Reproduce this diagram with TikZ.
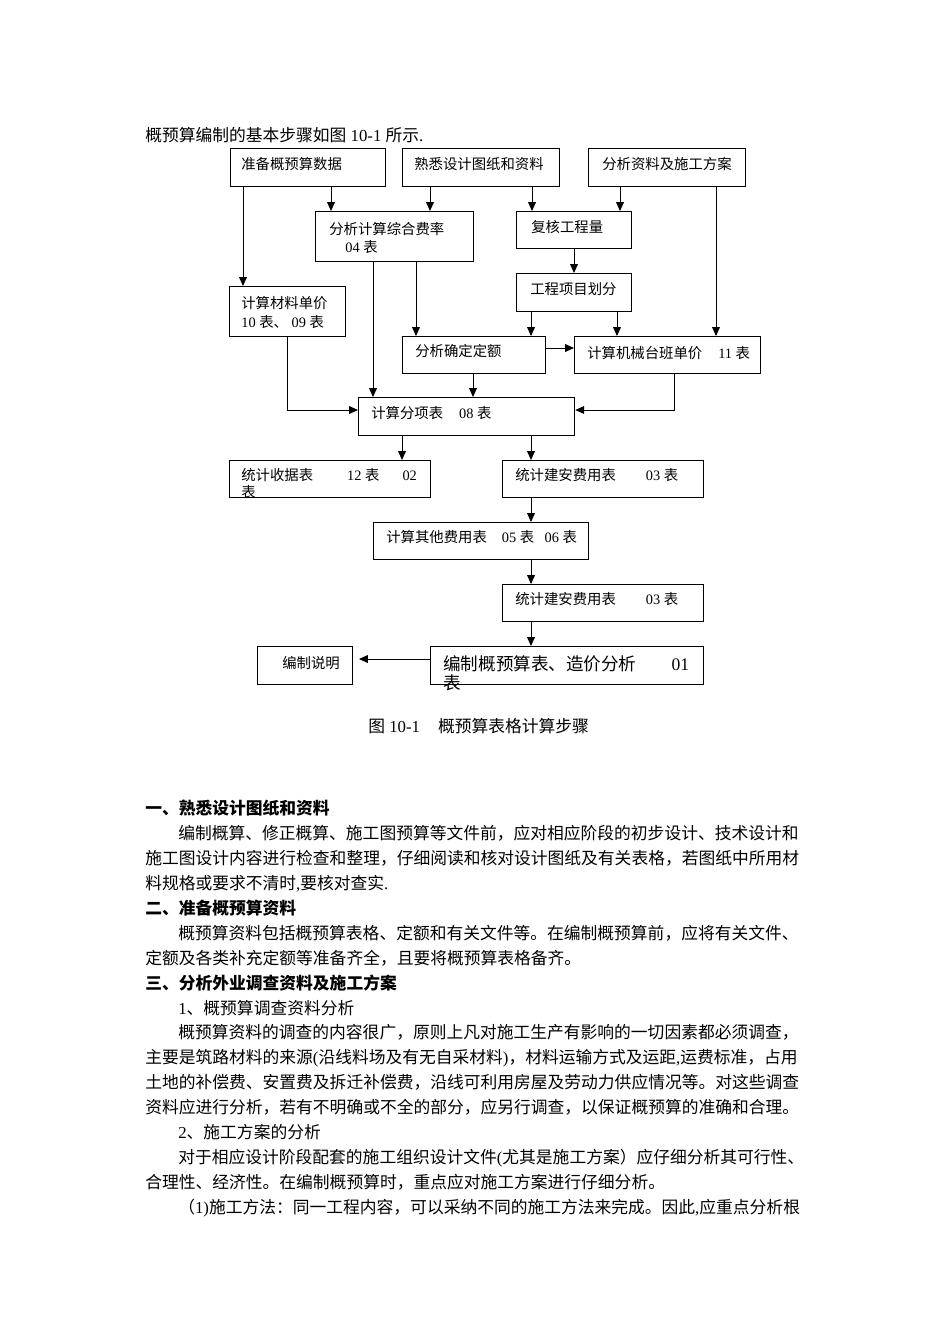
\documentclass[tikz,border=0pt]{standalone}
\usepackage{fontspec}
\setmainfont{Liberation Serif}
\newfontfamily\cjk{Noto Sans CJK SC}
\usetikzlibrary{arrows.meta}
% automatic switch between Latin (Liberation Serif) and CJK (Noto Sans CJK SC)
\XeTeXinterchartokenstate=1
\newXeTeXintercharclass\CJKcls
\newcount\cc
\def\setcls#1#2#3{\cc=#1\relax\loop\ifnum\cc<#2\relax\XeTeXcharclass\cc=#3\relax\advance\cc by 1\relax\repeat}
\setcls{"21}{"7F}{0}
\setcls{"3000}{"3040}{\CJKcls}
\setcls{"4E00}{"A000}{\CJKcls}
\setcls{"FF00}{"FFF0}{\CJKcls}
\XeTeXinterchartoks 0 \CJKcls = {\cjk}
\XeTeXinterchartoks 4095 \CJKcls = {\cjk}
\XeTeXinterchartoks \CJKcls 0 = {\rmfamily}
\XeTeXinterchartoks \CJKcls 4095 = {\rmfamily}
\newdimen\U \U=0.6263pt
\newcommand\bx[5]{\node[box, minimum width={(#4-#2)*\U}, minimum height={(#5-#3)*\U}] (#1) at (#2,#3) {};}
\newcommand\tx[5][ft]{\node[#1] (#2) at (#3,#4) {#5};}
\begin{document}
\begin{tikzpicture}[x=0.6263pt,y=-0.6263pt,
 box/.style={draw, line width=0.8pt, inner sep=0pt, anchor=north west},
 ft/.style={inner sep=0pt, anchor=west, text height=7.9pt, text depth=1.1pt, font=\fontsize{9pt}{11pt}\selectfont},
 fb/.style={inner sep=0pt, anchor=west, text height=9.2pt, text depth=1.3pt, font=\fontsize{10.5pt}{13pt}\selectfont},
 fo/.style={inner sep=0pt, anchor=west, text height=9.7pt, text depth=1.3pt, font=\fontsize{11pt}{13pt}\selectfont},
 hd/.style={fb, font=\fontsize{10.5pt}{13pt}\selectfont\bfseries},
 arr/.style={line width=0.6pt, -{Triangle[length=5.5pt,width=4.8pt]}}]
\fill[white] (0,0) rectangle (950,1344);
\useasboundingbox (0,0) rectangle (950,1344);

% boxes
\bx{A}{230}{148}{385}{186}
\bx{B}{402}{148}{559}{186}
\bx{C}{588}{148}{745}{186}
\bx{D}{315}{211}{473}{261}
\bx{E}{516}{211}{631}{248}
\bx{F}{516}{273}{631}{311}
\bx{G}{229}{286}{345}{336}
\bx{H}{402}{336}{545}{373}
\bx{I}{574}{336}{760}{373}
\bx{J}{358}{397}{574}{435}
\bx{K}{229}{460}{430}{497}
\bx{L}{502}{460}{703}{497}
\bx{M}{373}{522}{588}{559}
\bx{N}{502}{584}{703}{621}
\bx{O}{430}{646}{703}{684}
\bx{P}{257}{646}{352}{684}

% box texts
\tx{tA}{241}{164}{准备概预算数据}
\tx{tB}{414}{164}{熟悉设计图纸和资料}
\tx{tC}{602}{164}{分析资料及施工方案}
\tx{tD1}{329}{229}{分析计算综合费率}
\tx{tD2}{345}{247}{04 表}
\tx{tE}{531}{227}{复核工程量}
\tx{tF}{530}{289}{工程项目划分}
\tx{tG1}{241}{303}{计算材料单价}
\tx{tG2}{241}{322}{10 表、 09 表}
\tx{tH}{415}{351}{分析确定定额}
\tx{tI}{587}{353}{计算机械台班单价\hspace{16\U}11 表}
\tx{tJ}{371}{413}{计算分项表\hspace{16\U}08 表}
\tx{tK1}{241}{475}{统计收据表\hspace{34\U}12 表\hspace{23\U}02}
\tx{tK2}{241}{492}{表}
\tx{tL}{515}{475}{统计建安费用表\hspace{30\U}03 表}
\tx{tM}{386}{537}{计算其他费用表\hspace{15\U}05 表\hspace{10.5\U}06 表}
\tx{tN}{515}{599}{统计建安费用表\hspace{30\U}03 表}
\tx[fo]{tO1}{443}{664}{编制概预算表、造价分析\hspace{35\U}01}
\tx[fo]{tO2}{443}{683}{表}
\tx{tP}{282}{663}{编制说明}

% connectors
\draw[arr] (A.south -| 243,0) -- (G.north -| 243,0);
\draw[arr] (A.south -| 331,0) -- (D.north -| 331,0);
\draw[arr] (B.south -| 430,0) -- (D.north -| 430,0);
\draw[arr] (B.south -| 532,0) -- (E.north -| 532,0);
\draw[arr] (C.south -| 620,0) -- (E.north -| 620,0);
\draw[arr] (C.south -| 716,0) -- (I.north -| 716,0);
\draw[arr] (E.south -| 574,0) -- (F.north -| 574,0);
\draw[arr] (D.south -| 373,0) -- (J.north -| 373,0);
\draw[arr] (D.south -| 416,0) -- (H.north -| 416,0);
\draw[arr] (F.south -| 531,0) -- (H.north -| 531,0);
\draw[arr] (F.south -| 617,0) -- (I.north -| 617,0);
\draw[arr] (H.east |- 0,348) -- (I.west |- 0,348);
\draw[arr] (H.south -| 473,0) -- (J.north -| 473,0);
\draw[arr] (G.south -| 287,0) |- (J.west |- 0,410);
\draw[arr] (I.south -| 674,0) |- (J.east |- 0,410);
\draw[arr] (J.south -| 402,0) -- (K.north -| 402,0);
\draw[arr] (J.south -| 531,0) -- (L.north -| 531,0);
\draw[arr] (L.south -| 531,0) -- (M.north -| 531,0);
\draw[arr] (M.south -| 531,0) -- (N.north -| 531,0);
\draw[arr] (N.south -| 531,0) -- (O.north -| 531,0);
\coordinate (Ptip) at (359,659);
\draw[arr] (O.west |- Ptip) -- (Ptip);

% captions
\tx[fb]{intro}{145}{135}{概预算编制的基本步骤如图 10-1 所示.}
\tx[fb]{cap}{368}{726}{图 10-1\hspace{18\U}概预算表格计算步骤}

% body text
\tx[hd]{h1}{145}{808}{一、熟悉设计图纸和资料}
\tx[fb]{b2}{178}{833}{编制概算、修正概算、施工图预算等文件前，应对相应阶段的初步设计、技术设计和}
\tx[fb]{b3}{145}{858}{施工图设计内容进行检查和整理，仔细阅读和核对设计图纸及有关表格，若图纸中所用材}
\tx[fb]{b4}{145}{883}{料规格或要求不清时,要核对查实.}
\tx[hd]{h2}{145}{908}{二、准备概预算资料}
\tx[fb]{b6}{178}{933}{概预算资料包括概预算表格、定额和有关文件等。在编制概预算前，应将有关文件、}
\tx[fb]{b7}{145}{958}{定额及各类补充定额等准备齐全，且要将概预算表格备齐。}
\tx[hd]{h3}{145}{983}{三、分析外业调查资料及施工方案}
\tx[fb]{b9}{178}{1008}{1、概预算调查资料分析}
\tx[fb]{b10}{178}{1032}{概预算资料的调查的内容很广，原则上凡对施工生产有影响的一切因素都必须调查，}
\tx[fb]{b11}{145}{1057}{主要是筑路材料的来源(沿线料场及有无自采材料)，材料运输方式及运距,运费标准，占用}
\tx[fb]{b12}{145}{1082}{土地的补偿费、安置费及拆迁补偿费，沿线可利用房屋及劳动力供应情况等。对这些调查}
\tx[fb]{b13}{145}{1107}{资料应进行分析，若有不明确或不全的部分，应另行调查，以保证概预算的准确和合理。}
\tx[fb]{b14}{178}{1132}{2、施工方案的分析}
\tx[fb]{b15}{178}{1157}{对于相应设计阶段配套的施工组织设计文件(尤其是施工方案）应仔细分析其可行性、}
\tx[fb]{b16}{145}{1182}{合理性、经济性。在编制概预算时，重点应对施工方案进行仔细分析。}
\tx[fb]{b17}{178}{1207}{（1)施工方法：同一工程内容，可以采纳不同的施工方法来完成。因此,应重点分析根}
\end{tikzpicture}
\end{document}
